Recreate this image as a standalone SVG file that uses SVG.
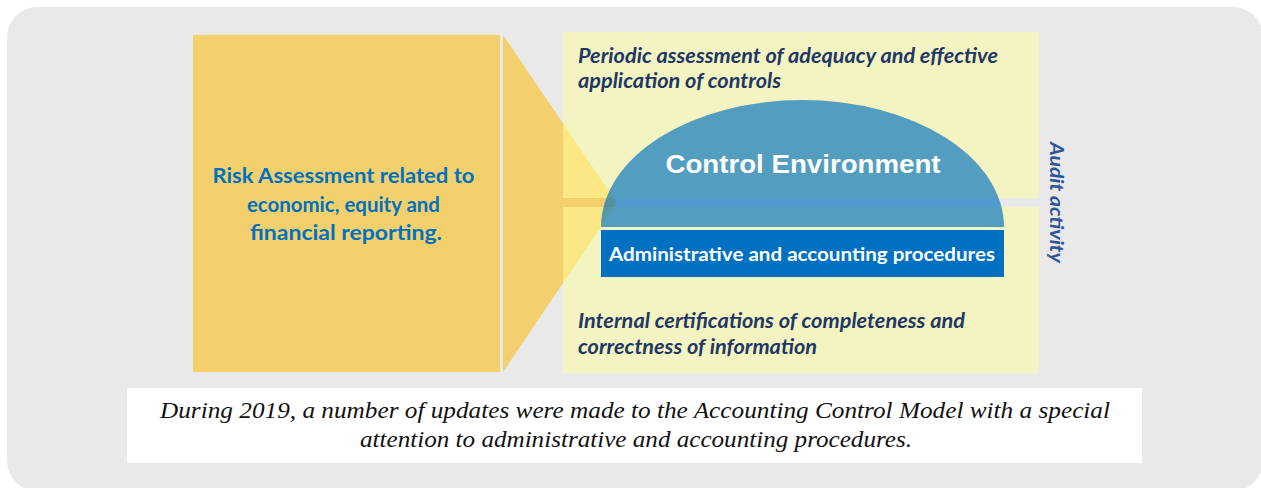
<svg xmlns="http://www.w3.org/2000/svg" width="1261" height="488" viewBox="0 0 1261 488">
  <style>
    .sans { font-family: Lato, "Open Sans", "Liberation Sans", sans-serif; font-weight: bold; }
    .note { font-family: "Liberation Serif", "DejaVu Serif", serif; font-style: italic; font-size: 24px; fill: #111111; }
    .ital { font-family: Lato, "Open Sans", "Liberation Sans", sans-serif; font-weight: bold; font-style: italic; font-size: 20px; fill: #1F3864; }
    .panel { fill: #FFFF9B; opacity: 0.5; }
  </style>
  <rect id="background" x="7" y="7" width="1256" height="484" rx="30" ry="30" fill="#E9E9E9"/>

  <g id="risk-assessment">
    <rect x="193" y="35" width="307" height="337" fill="#F3D06B"/>
    <text class="sans" font-size="21" fill="#0070C0" text-anchor="middle">
      <tspan x="346" y="183" textLength="262" lengthAdjust="spacingAndGlyphs">Risk Assessment related to</tspan>
      <tspan x="346" y="212" textLength="193" lengthAdjust="spacingAndGlyphs">economic, equity and</tspan>
      <tspan x="346" y="240" textLength="192" lengthAdjust="spacingAndGlyphs">financial reporting.</tspan>
    </text>
  </g>

  <g id="connectors">
    <polygon points="503,35 617,203 503,372" fill="#F3D06B"/>
  </g>

  <g id="periodic-assessment">
    <rect class="panel" x="563" y="32" width="476" height="166"/>
    <text class="ital">
      <tspan x="578" y="63" textLength="420" lengthAdjust="spacingAndGlyphs">Periodic assessment of adequacy and effective</tspan>
      <tspan x="578" y="88" textLength="203" lengthAdjust="spacingAndGlyphs">application of controls</tspan>
    </text>
  </g>

  <g id="internal-certifications">
    <rect class="panel" x="563" y="207" width="476" height="166"/>
    <text class="ital">
      <tspan x="578" y="328" textLength="387" lengthAdjust="spacingAndGlyphs">Internal certifications of completeness and</tspan>
      <tspan x="578" y="354" textLength="239" lengthAdjust="spacingAndGlyphs">correctness of information</tspan>
    </text>
  </g>

  <g id="control-environment">
    <path d="M601,227 A201.5,127 0 0 1 1004,227 Z" fill="#0070C0" opacity="0.66"/>
    <text x="803" y="173" text-anchor="middle" font-family="'Liberation Sans', Arial, sans-serif" font-weight="bold" font-size="26" fill="#FFFFFF" textLength="275" lengthAdjust="spacingAndGlyphs">Control Environment</text>
  </g>

  <g id="procedures">
    <rect x="601" y="230" width="403" height="47" fill="#0070C0"/>
    <text class="sans" x="609" y="261" font-size="19" fill="#FFFFFF" textLength="386" lengthAdjust="spacingAndGlyphs">Administrative and accounting procedures</text>
  </g>

  <g id="audit-activity">
    <text class="sans" transform="translate(1050,142) rotate(90)" x="0" y="0" font-size="18" font-style="italic" fill="#2F5597" textLength="121" lengthAdjust="spacingAndGlyphs">Audit activity</text>
  </g>

  <g id="note">
    <rect x="127" y="388" width="1015" height="75" fill="#FFFFFF"/>
    <text class="note" text-anchor="middle">
      <tspan x="638" y="418" textLength="950" lengthAdjust="spacingAndGlyphs">During 2019, a number of updates were made to the Accounting Control Model with a special</tspan>
      <tspan x="636" y="447" textLength="552" lengthAdjust="spacingAndGlyphs">attention to administrative and accounting procedures.</tspan>
    </text>
  </g>
</svg>
